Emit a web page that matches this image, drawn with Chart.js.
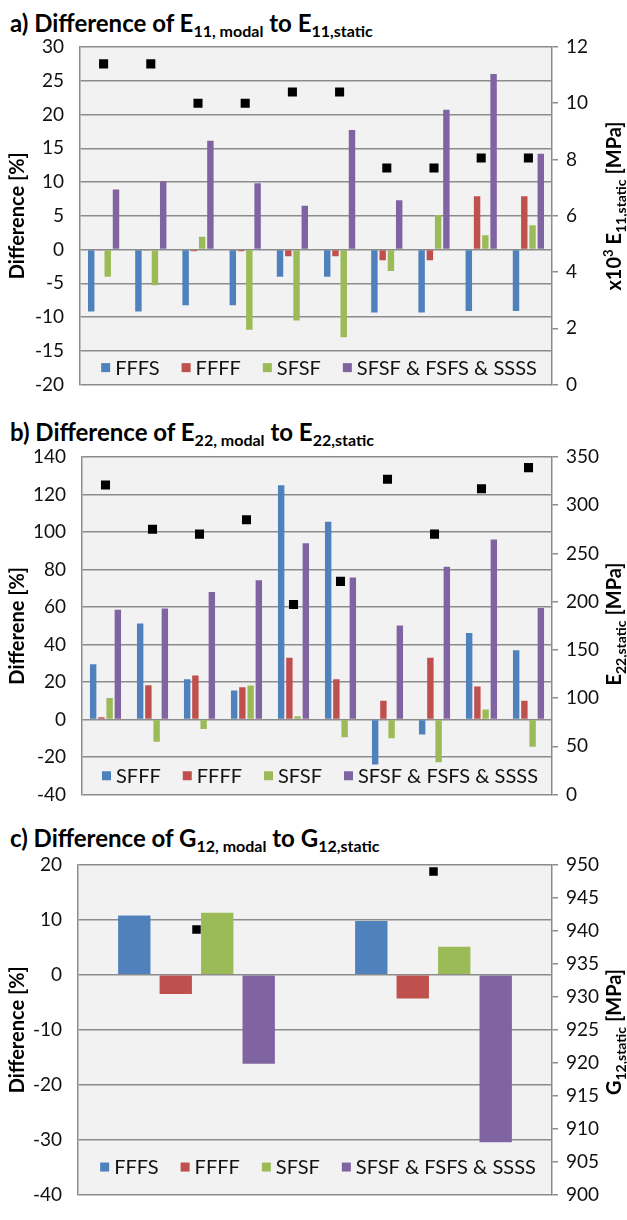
<!DOCTYPE html>
<html>
<head>
<meta charset="utf-8">
<script src="https://cdn.jsdelivr.net/npm/chart.js@4.4.0/dist/chart.umd.min.js"></script>
<style>
    body { margin: 0; background: #fff; width: 627px; height: 1220px; position: relative; overflow: hidden; font-family: Lato, sans-serif; }
    canvas { position: absolute; left: 0; }
    .title { position: absolute; left: 10px; font-weight: bold; font-size: 24px; line-height: 28px; color: #000; white-space: nowrap; }
    .title sub { font-size: 16px; vertical-align: baseline; position: relative; top: 5px; }
    .side { position: absolute; font-weight: bold; font-size: 20px; line-height: 22px; color: #000; white-space: nowrap;
            transform: translate(-50%, -50%) rotate(-90deg); z-index: 2; }
    .side sub { font-size: 14px; vertical-align: baseline; position: relative; top: 5px; }
    .side sup { font-size: 13px; vertical-align: baseline; position: relative; top: -8px; }
</style>
</head>
<body>
<div class="title" style="top:9px">a) Difference of E<sub>11, modal</sub> to E<sub>11,static</sub></div>
<div class="title" style="top:418px">b) Difference of E<sub>22, modal</sub> to E<sub>22,static</sub></div>
<div class="title" style="top:824px">c) Difference of G<sub>12, modal</sub> to G<sub>12,static</sub></div>
<div class="side" style="left:614px; top:206px">x10<sup>3</sup> E<sub>11,static</sub> [MPa]</div>
<div class="side" style="left:614px; top:624px">E<sub>22,static</sub> [MPa]</div>
<div class="side" style="left:614px; top:1032px">G<sub>12,static</sub> [MPa]</div>
<canvas id="chart-a" width="627" height="410" style="top:0px"></canvas>
<canvas id="chart-b" width="627" height="415" style="top:405px"></canvas>
<canvas id="chart-c" width="627" height="405" style="top:815px"></canvas>
<script>
// Panel a data (difference in %, E11 static in x10^3 MPa)
const groupsA = ['', '', '', '', '', '', '', '', '', ''];
const fffsA = [-9.2, -9.2, -8.25, -8.25, -4.05, -4.05, -9.35, -9.35, -9.1, -9.1];
const ffffA = [-0.15, -0.15, -0.25, -0.25, -1.0, -1.0, -1.6, -1.6, 7.9, 7.9];
const sfsfA = [-4.05, -5.3, 1.9, -11.9, -10.5, -13.0, -3.2, 5.1, 2.1, 3.6];
const allA = [8.9, 10.1, 16.1, 9.8, 6.5, 17.7, 7.3, 20.7, 26.0, 14.2];
const e11Static = [11.4, 11.4, 10.0, 10.0, 10.4, 10.4, 7.7, 7.7, 8.05, 8.05];

// Panel b data (difference in %, E22 static in MPa)
const groupsB = ['', '', '', '', '', '', '', '', '', ''];
const sfffB = [29.5, 51.2, 21.5, 15.5, 125, 105.5, -24, -8, 46.2, 37];
const ffffB = [1.2, 18.3, 23.5, 17.2, 33, 21.5, 10, 33, 17.6, 10];
const sfsfB = [11.5, -11.8, -5, 18.2, 1.8, -9.5, -10, -22.8, 5.3, -14.5];
const allB = [58.5, 59.2, 68, 74.3, 94, 75.8, 50.2, 81.5, 96, 59.5];
const e22Static = [321, 275, 270, 285, 197, 221, 327, 270, 317, 339];

// Panel c data (difference in %, G12 static in MPa)
const groupsC = ['', ''];
const fffsC = [10.8, 9.8];
const ffffC = [-3.5, -4.3];
const sfsfC = [11.3, 5.1];
const allC = [-16.2, -30.5];
const g12Static = [940.2, 949.0];

const legendA = ['FFFS', 'FFFF', 'SFSF', 'SFSF & FSFS & SSSS'];
const legendB = ['SFFF', 'FFFF', 'SFSF', 'SFSF & FSFS & SSSS'];
const legendC = ['FFFS', 'FFFF', 'SFSF', 'SFSF & FSFS & SSSS'];

const colors = ['#4F81BD', '#C0504D', '#9BBB59', '#8064A2'];
const gridColor = '#8c8c8c';
const textColor = '#111';

// Grey plot area background
const plotBackground = {
    id: 'plotBackground',
    beforeDraw(chart) {
        const { ctx, chartArea } = chart;
        ctx.save();
        ctx.fillStyle = '#F2F2F2';
        ctx.fillRect(chartArea.left, chartArea.top, chartArea.right - chartArea.left, chartArea.bottom - chartArea.top);
        ctx.restore();
    }
};

// Legend drawn inside the plot area
const innerLegend = {
    id: 'innerLegend',
    afterDatasetsDraw(chart, args, opts) {
        const labels = opts.labels;
        if (!labels) return;
        const { ctx, chartArea } = chart;
        const y = chart.scales.y.getPixelForValue(opts.at);
        ctx.save();
        ctx.font = '20px Lato';
        const box = 9, gap = 5, itemGap = 22;
        const widths = labels.map(l => ctx.measureText(l).width);
        const total = widths.reduce((s, w) => s + box + gap + w, 0) + itemGap * (labels.length - 1);
        let x = (chartArea.left + chartArea.right) / 2 + 3 - total / 2;
        ctx.textBaseline = 'middle';
        labels.forEach((l, i) => {
            ctx.fillStyle = chart.data.datasets[i].backgroundColor;
            ctx.fillRect(x, y - box / 2, box, box);
            x += box + gap;
            ctx.fillStyle = textColor;
            ctx.fillText(l, x, y + 1);
            x += widths[i] + itemGap;
        });
        ctx.restore();
    }
};

function barSet(label, data, i) {
    return {
        label: label,
        data: data,
        backgroundColor: colors[i],
        borderWidth: 0,
        barPercentage: 0.78,
        categoryPercentage: 0.70,
        yAxisID: 'y',
        order: 1
    };
}

function staticSet(data, radius) {
    return {
        type: 'line',
        label: 'static',
        data: data,
        yAxisID: 'y2',
        showLine: false,
        pointStyle: 'rect',
        pointRadius: radius,
        pointHoverRadius: radius,
        backgroundColor: '#000',
        borderColor: '#000',
        borderWidth: 0,
        order: 0
    };
}

function makeChart(id, labels, series, legend, staticData, opt) {
    const tickFont = { family: 'Lato', size: 19, lineHeight: 1 };
    return new Chart(document.getElementById(id), {
        type: 'bar',
        data: {
            labels: labels,
            datasets: [
                barSet(legend[0], series[0], 0),
                barSet(legend[1], series[1], 1),
                barSet(legend[2], series[2], 2),
                barSet(legend[3], series[3], 3),
                staticSet(staticData, opt.radius)
            ]
        },
        options: {
            responsive: false,
            animation: false,
            layout: { padding: { top: opt.padTop, bottom: opt.padBottom, left: 0, right: 0 } },
            plugins: {
                legend: { display: false },
                tooltip: { enabled: false },
                innerLegend: { labels: legend, at: opt.legendAt }
            },
            scales: {
                x: { display: false },
                y: {
                    position: 'left',
                    min: opt.yMin, max: opt.yMax,
                    ticks: { stepSize: opt.yStep, padding: 16, font: tickFont, color: textColor },
                    grid: { color: gridColor, lineWidth: 1.5, drawTicks: false },
                    border: { color: gridColor, width: 1.5 },
                    title: {
                        display: true, text: opt.yTitle, color: '#000',
                        font: { family: 'Lato', size: 20, weight: 'bold' },
                        padding: { top: 6, bottom: 0 }
                    },
                    afterFit: s => { s.width = opt.left; }
                },
                y2: {
                    position: 'right',
                    min: opt.y2Min, max: opt.y2Max,
                    ticks: { stepSize: opt.y2Step, padding: 8, font: tickFont, color: textColor },
                    grid: { drawOnChartArea: false, drawTicks: true, tickLength: 6, color: gridColor, lineWidth: 1.5 },
                    border: { color: gridColor, width: 1.5 },
                    afterFit: s => { s.width = 75; }
                }
            }
        },
        plugins: [plotBackground, innerLegend]
    });
}

makeChart('chart-a', groupsA, [fffsA, ffffA, sfsfA, allA], legendA, e11Static, {
    padTop: 47, padBottom: 16, left: 80, radius: 6.4,
    yMin: -20, yMax: 30, yStep: 5, y2Min: 0, y2Max: 12, y2Step: 2,
    legendAt: -17.5, yTitle: 'Difference [%]'
});

makeChart('chart-b', groupsB, [sfffB, ffffB, sfsfB, allB], legendB, e22Static, {
    padTop: 52, padBottom: 17, left: 82, radius: 6.4,
    yMin: -40, yMax: 140, yStep: 20, y2Min: 0, y2Max: 350, y2Step: 50,
    legendAt: -30, yTitle: 'Differene [%]'
});

makeChart('chart-c', groupsC, [fffsC, ffffC, sfsfC, allC], legendC, g12Static, {
    padTop: 50, padBottom: 9, left: 78, radius: 6,
    yMin: -40, yMax: 20, yStep: 10, y2Min: 900, y2Max: 950, y2Step: 5,
    legendAt: -35, yTitle: 'Difference [%]'
});
</script>
</body>
</html>
